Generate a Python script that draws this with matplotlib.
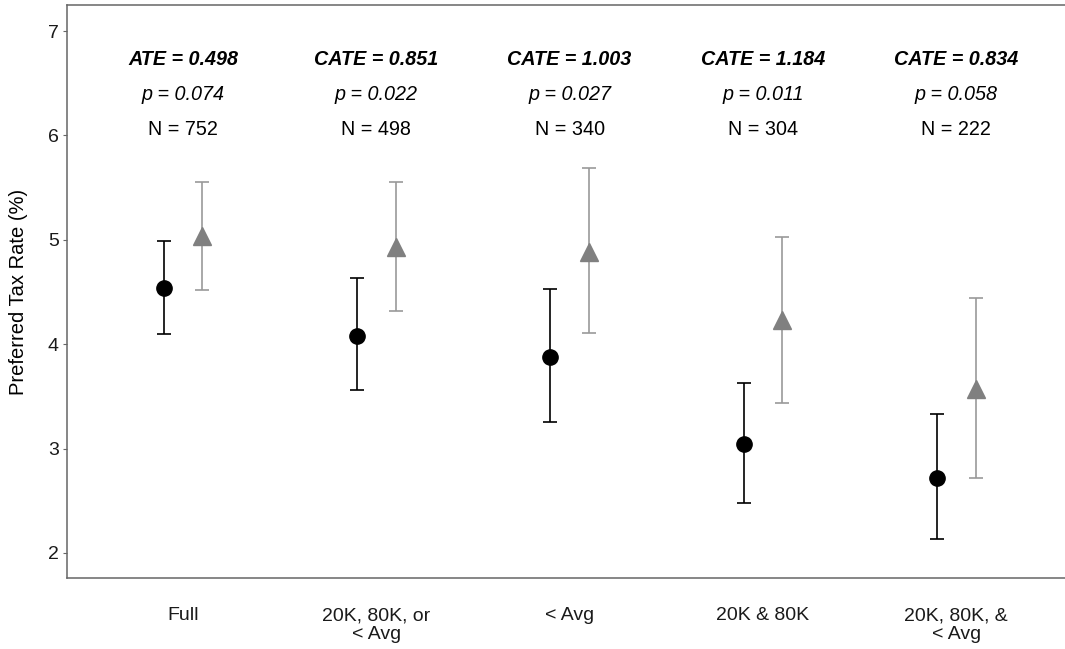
import matplotlib
matplotlib.use("Agg")
from matplotlib import pyplot as plt
import numpy as np

plt.rcParams['font.family'] = ['Liberation Sans', 'DejaVu Sans']

groups = ["Full", "20K, 80K, or\n< Avg", "< Avg", "20K & 80K", "20K, 80K, &\n< Avg"]

# control (circles) and treatment (triangles): mean, lower, upper
ctrl_mean = [4.54, 4.08, 3.88, 3.04, 2.72]
ctrl_lo = [4.10, 3.56, 3.25, 2.48, 2.13]
ctrl_hi = [4.99, 4.63, 4.53, 3.63, 3.33]

treat_mean = [5.04, 4.93, 4.88, 4.23, 3.57]
treat_lo = [4.52, 4.32, 4.11, 3.44, 2.72]
treat_hi = [5.55, 5.55, 5.69, 5.03, 4.44]

effect_labels = ["ATE = 0.498", "CATE = 0.851", "CATE = 1.003", "CATE = 1.184", "CATE = 0.834"]
p_values = ["0.074", "0.022", "0.027", "0.011", "0.058"]
n_obs = [752, 498, 340, 304, 222]

x = np.arange(1, len(groups) + 1)
dodge = 0.1

fig = plt.figure(figsize=(10.65, 6.49), dpi=100)
ax = fig.add_axes([67 / 1065, 1 - 578 / 649, 998 / 1065, 573 / 649])

c_mean = np.array(ctrl_mean)
t_mean = np.array(treat_mean)
ax.errorbar(x - dodge, c_mean,
            yerr=[c_mean - np.array(ctrl_lo), np.array(ctrl_hi) - c_mean],
            fmt='none', ecolor='black', elinewidth=1.2, capsize=5, capthick=1.2)
ax.errorbar(x + dodge, t_mean,
            yerr=[t_mean - np.array(treat_lo), np.array(treat_hi) - t_mean],
            fmt='none', ecolor='#999999', elinewidth=1.2, capsize=5, capthick=1.2)
ax.plot(x - dodge, c_mean, 'o', color='black', markersize=11)
ax.plot(x + dodge, t_mean, '^', color='#808080', markersize=13)

for i in range(len(groups)):
    ax.text(x[i], 6.73, effect_labels[i], ha='center', va='center',
            fontsize=14.2, fontweight='bold', fontstyle='italic')
    ax.text(x[i], 6.39, "p = " + p_values[i], ha='center', va='center',
            fontsize=14.2, fontstyle='italic')
    ax.text(x[i], 6.06, "N = %d" % n_obs[i], ha='center', va='center',
            fontsize=14.2)

ax.set_xlim(0.4, 0.4 + 998 / 193.3)
ax.set_ylim(1.76, 7.25)
ax.set_yticks([2, 3, 4, 5, 6, 7])
ax.set_xticks(x)
ax.set_xticklabels(groups, fontsize=14, color='#1a1a1a', linespacing=1.15)
ax.tick_params(axis='x', length=0, pad=21)
ax.tick_params(axis='y', length=3, width=0.8, color='#666666', labelsize=14,
               labelcolor='#1a1a1a', pad=3)
ax.set_ylabel("Preferred Tax Rate (%)", fontsize=14.5)
ax.yaxis.set_label_coords(-39 / 998, 0.5)

for side in ['left', 'bottom', 'top']:
    ax.spines[side].set_color('#666666')
    ax.spines[side].set_linewidth(1.1)
ax.spines['right'].set_visible(False)

fig.savefig("out.png", dpi=100)
